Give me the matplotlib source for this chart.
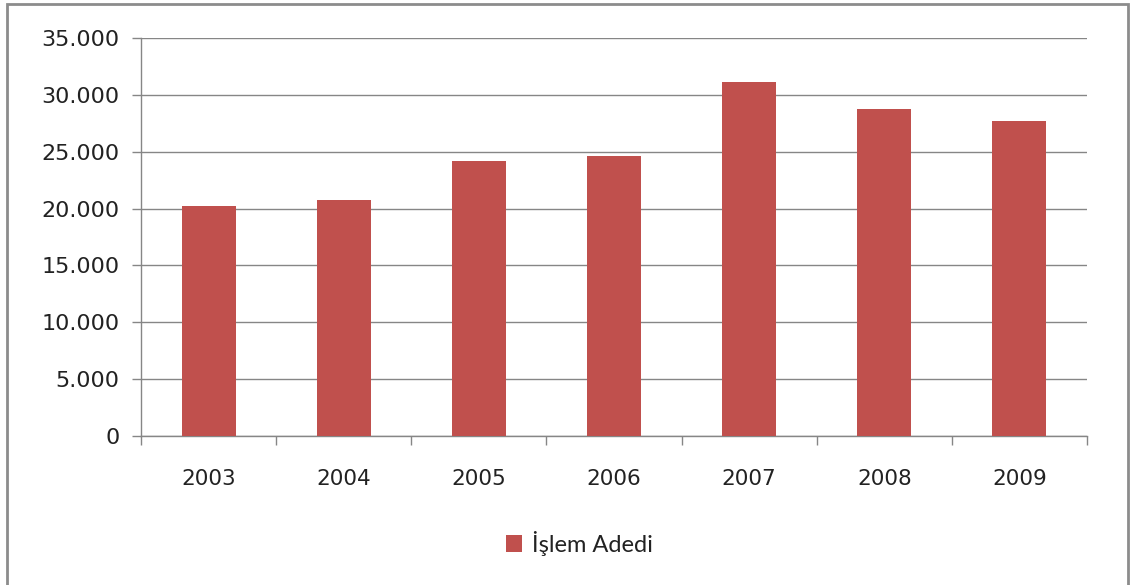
import matplotlib
matplotlib.use("Agg")
import matplotlib.pyplot as plt
from matplotlib.patches import Rectangle
from matplotlib.ticker import FuncFormatter, MultipleLocator

# data
years = ["2003", "2004", "2005", "2006", "2007", "2008", "2009"]
islem_adedi = [20200, 20740, 24180, 24620, 31170, 28800, 27690]

bar_color = "#C0504D"
axis_gray = "#868686"

fig = plt.figure(figsize=(11.3, 5.85), dpi=100)
ax = fig.add_axes([141 / 1130, 149 / 585, 946 / 1130, 398 / 585])

x = list(range(len(years)))
ax.bar(x, islem_adedi, width=0.4, color=bar_color, label="İşlem Adedi", zorder=3)

ax.set_xlim(-0.5, len(years) - 0.5)
ax.set_ylim(0, 35000)
ax.yaxis.set_major_locator(MultipleLocator(5000))
ax.yaxis.set_major_formatter(FuncFormatter(lambda v, p: f"{int(v):,}".replace(",", ".")))
ax.grid(axis="y", color=axis_gray, linewidth=1, zorder=0)

# category labels centred, tick marks between categories
ax.set_xticks(x)
ax.set_xticklabels(years)
ax.tick_params(axis="x", length=0, pad=24, labelsize=15.5, labelcolor="#222222")
ax.set_xticks([i - 0.5 for i in range(len(years) + 1)], minor=True)
ax.tick_params(axis="x", which="minor", length=6.5, color=axis_gray, width=1)
ax.tick_params(axis="y", length=6.5, color=axis_gray, width=1, labelsize=16,
               labelcolor="#222222", pad=9)

for side in ["top", "right"]:
    ax.spines[side].set_visible(False)
for side in ["left", "bottom"]:
    ax.spines[side].set_color(axis_gray)
    ax.spines[side].set_linewidth(1)

leg = fig.legend(loc="center", bbox_to_anchor=(579 / 1130, 1 - 543 / 585),
                 frameon=False, handlelength=0.7, handleheight=0.7,
                 handletextpad=0.4, prop={"family": "Lato", "size": 17})
for t in leg.get_texts():
    t.set_color("#222222")

# outer chart border
fig.patches.append(Rectangle((7 / 1130, -0.05), 1121 / 1130, 1.05 - 4 / 585,
                             transform=fig.transFigure, fill=False,
                             edgecolor="#8c8c8c", linewidth=2))

fig.savefig("out.png", dpi=100)
